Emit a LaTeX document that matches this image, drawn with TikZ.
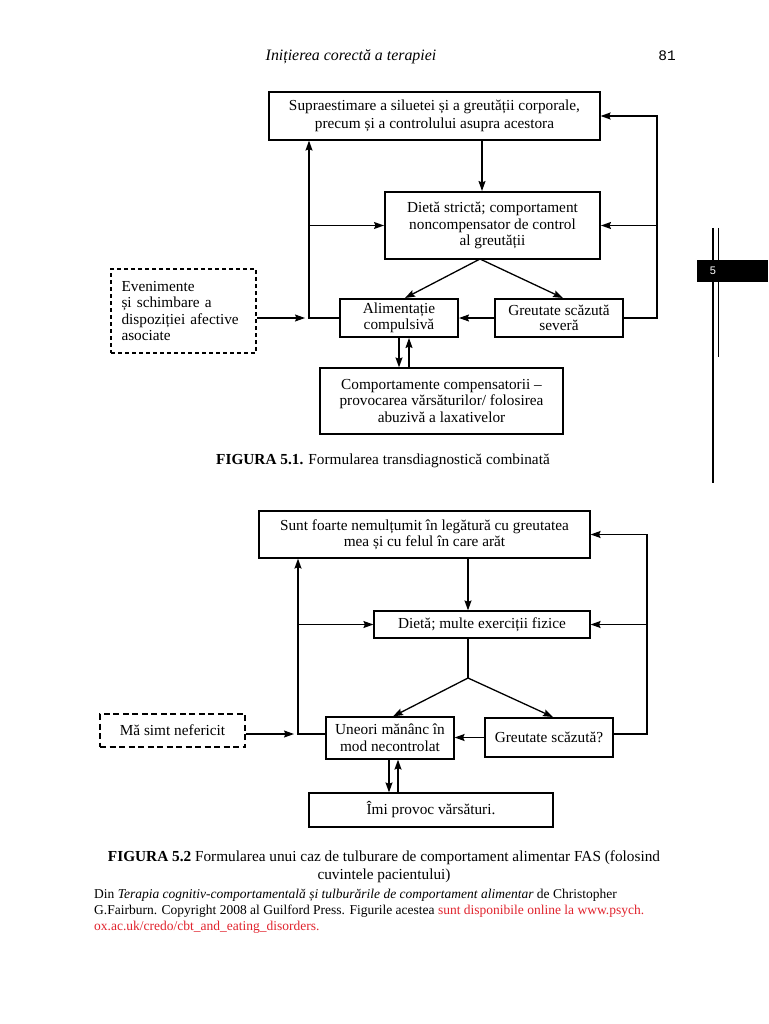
\documentclass[tikz,border=0pt]{standalone}
\usepackage{fontspec}
\setmainfont{Liberation Serif}
\newfontfamily\pagemono{Liberation Mono}
\newfontfamily\tabsans{Liberation Sans}
\usetikzlibrary{arrows.meta,calc}
\definecolor{linkred}{RGB}{225,35,45}
\begin{document}
\begin{tikzpicture}[x=1pt,y=-1pt,
  arr/.style={line width=1.3pt,-{Stealth[length=10pt,width=7pt,inset=1.5pt]}},
  ln/.style={line width=1.3pt},
  box/.style={draw,line width=1.2pt,align=center,inner sep=0pt,
    font=\fontsize{15.3}{16.5}\selectfont},
  tbox/.style={box,line width=2pt},
  dboxa/.style={box,line width=1.8pt,dash pattern=on 4pt off 3pt},
  dboxb/.style={box,line width=1.4pt,dash pattern=on 6pt off 3.5pt}]
\useasboundingbox (0,0) rectangle (768,1024);
\fill[white] (0,0) rectangle (768,1024);

% header
\node[font=\itshape\fontsize{15.9}{16}\selectfont] (hdr) at (351,57) {Inițierea corectă a terapiei};
\node[font=\pagemono\fontsize{14.5}{14.5}\selectfont] (pg) at (667,56) {81};

% side tab
\draw[line width=2.5pt] (713,228) -- (713,483);
\draw[line width=1pt] (718.5,228) -- (718.5,357);
\fill[black] (697,260) rectangle (768,282);
\node[white,font=\tabsans\fontsize{11}{11}\selectfont] (tab) at (713,271) {5};

% ---------- Figure 5.1 ----------
\node[box,minimum width=331pt,minimum height=48pt,font=\fontsize{15.3}{17.5}\selectfont] (A) at (434.5,116)
  {Supraestimare a siluetei și a greutății corporale,\\precum și a controlului asupra acestora};
\node[tbox,minimum width=215pt,minimum height=67pt] (B) at (492.5,225.5)
  {Dietă strictă; comportament\\noncompensator de control\\al greutății};
\node[tbox,minimum width=118pt,minimum height=38pt,font=\fontsize{15.3}{15.5}\selectfont] (C) at (399,318)
  {Alimentație\\compulsivă};
\node[tbox,minimum width=128pt,minimum height=38pt,font=\fontsize{15.3}{15.5}\selectfont] (E) at (559,318)
  {Greutate scăzută\\severă};
\node[box,minimum width=243pt,minimum height=66pt] (D) at (441.5,401)
  {Comportamente compensatorii –\\provocarea vărsăturilor/ folosirea\\abuzivă a laxativelor};
\node[dboxa,minimum width=145pt,minimum height=84pt,text width=124pt,align=left] (Ev) at (183.5,311)
  {Evenimente\\și schimbare a\\dispoziției afective\\asociate};

\coordinate (lx) at (309,0);
\coordinate (rx) at (657,0);
\coordinate (mx) at (482,0);
\coordinate (ap1) at (480,259);

\draw[arr] (mx |- A.south) -- (mx |- B.north);
\draw[arr] (C.west) -| (lx |- A.south);
\draw[arr] (lx |- B.west) -- (B.west);
\draw[arr] (E.east) -| (rx |- A.east) -- (A.east);
\draw[arr] (rx |- B.east) -- (B.east);
\draw[arr] (Ev.east |- C.west) -- ($(lx |- C.west)+(-4,0)$);
\draw[arr] (ap1) -- ($(C.north)+(6,0)$);
\draw[arr] (ap1) -- ($(E.north)+(4,0)$);
\draw[arr] (E.west) -- (C.east);
\draw[arr] (C.south) -- (C.south |- D.north);
\draw[arr] ($(C.south |- D.north)+(10,0)$) -- ($(C.south)+(10,0)$);

\node[font=\fontsize{15.3}{17}\selectfont] (cap1) at (383,461)
  {\textbf{FIGURA 5.1.} Formularea transdiagnostică combinată};

% ---------- Figure 5.2 ----------
\node[box,minimum width=331pt,minimum height=47pt,font=\fontsize{15.3}{15.5}\selectfont] (F) at (424.5,534.5)
  {Sunt foarte nemulțumit în legătură cu greutatea\\mea și cu felul în care arăt};
\node[box,minimum width=216pt,minimum height=27pt] (G) at (482,624.5)
  {Dietă; multe exerciții fizice};
\node[box,minimum width=128pt,minimum height=42pt,font=\fontsize{15.3}{17}\selectfont] (H) at (390,738)
  {Uneori mănânc în\\mod necontrolat};
\node[tbox,minimum width=128pt,minimum height=39pt] (I) at (549,737.5)
  {Greutate scăzută?};
\node[box,minimum width=244pt,minimum height=34pt] (K) at (431,810)
  {Îmi provoc vărsături.};
\node[dboxb,minimum width=145pt,minimum height=33pt] (J) at (172.5,730.5)
  {Mă simt nefericit};

\coordinate (lx2) at (298,0);
\coordinate (rx2) at (647,0);
\coordinate (mx2) at (468,0);
\coordinate (r2) at (0,734);
\coordinate (ap2) at (468,678);

\draw[arr] (mx2 |- F.south) -- (mx2 |- G.north);
\draw[ln] (mx2 |- G.south) -- (ap2);
\draw[arr] (ap2) -- ($(H.north)+(3,0)$);
\draw[arr] (ap2) -- ($(I.north)+(4,0)$);
\draw[arr] (I.west) -- (H.east |- I.west);
\draw[arr] (H.west |- r2) -| (lx2 |- F.south);
\draw[arr] (lx2 |- G.west) -- (G.west);
\draw[arr] (I.east |- r2) -| (rx2 |- F.east) -- (F.east);
\draw[arr] (rx2 |- G.east) -- (G.east);
\draw[arr] (J.east |- r2) -- ($(lx2 |- r2)+(-4,0)$);
\draw[arr] ($(H.south)+(-1,0)$) -- ($(H.south |- K.north)+(-1,0)$);
\draw[arr] ($(H.south |- K.north)+(8,0)$) -- ($(H.south)+(8,0)$);

\node[align=center,font=\fontsize{15.3}{18}\selectfont] (cap2) at (384,867)
  {\textbf{FIGURA 5.2} Formularea unui caz de tulburare de comportament alimentar FAS (folosind\\cuvintele pacientului)};

\node[anchor=north west,align=left,inner sep=0pt,font=\fontsize{13.5}{16}\selectfont] (foot) at (94,889)
  {Din \textit{Terapia cognitiv-comportamentală și tulburările de comportament alimentar} de Christopher\\
   G.Fairburn. Copyright 2008 al Guilford Press. Figurile acestea \textcolor{linkred}{sunt disponibile online la www.psych.}\\
   \textcolor{linkred}{ox.ac.uk/credo/cbt\_and\_eating\_disorders.}};
\end{tikzpicture}
\end{document}
